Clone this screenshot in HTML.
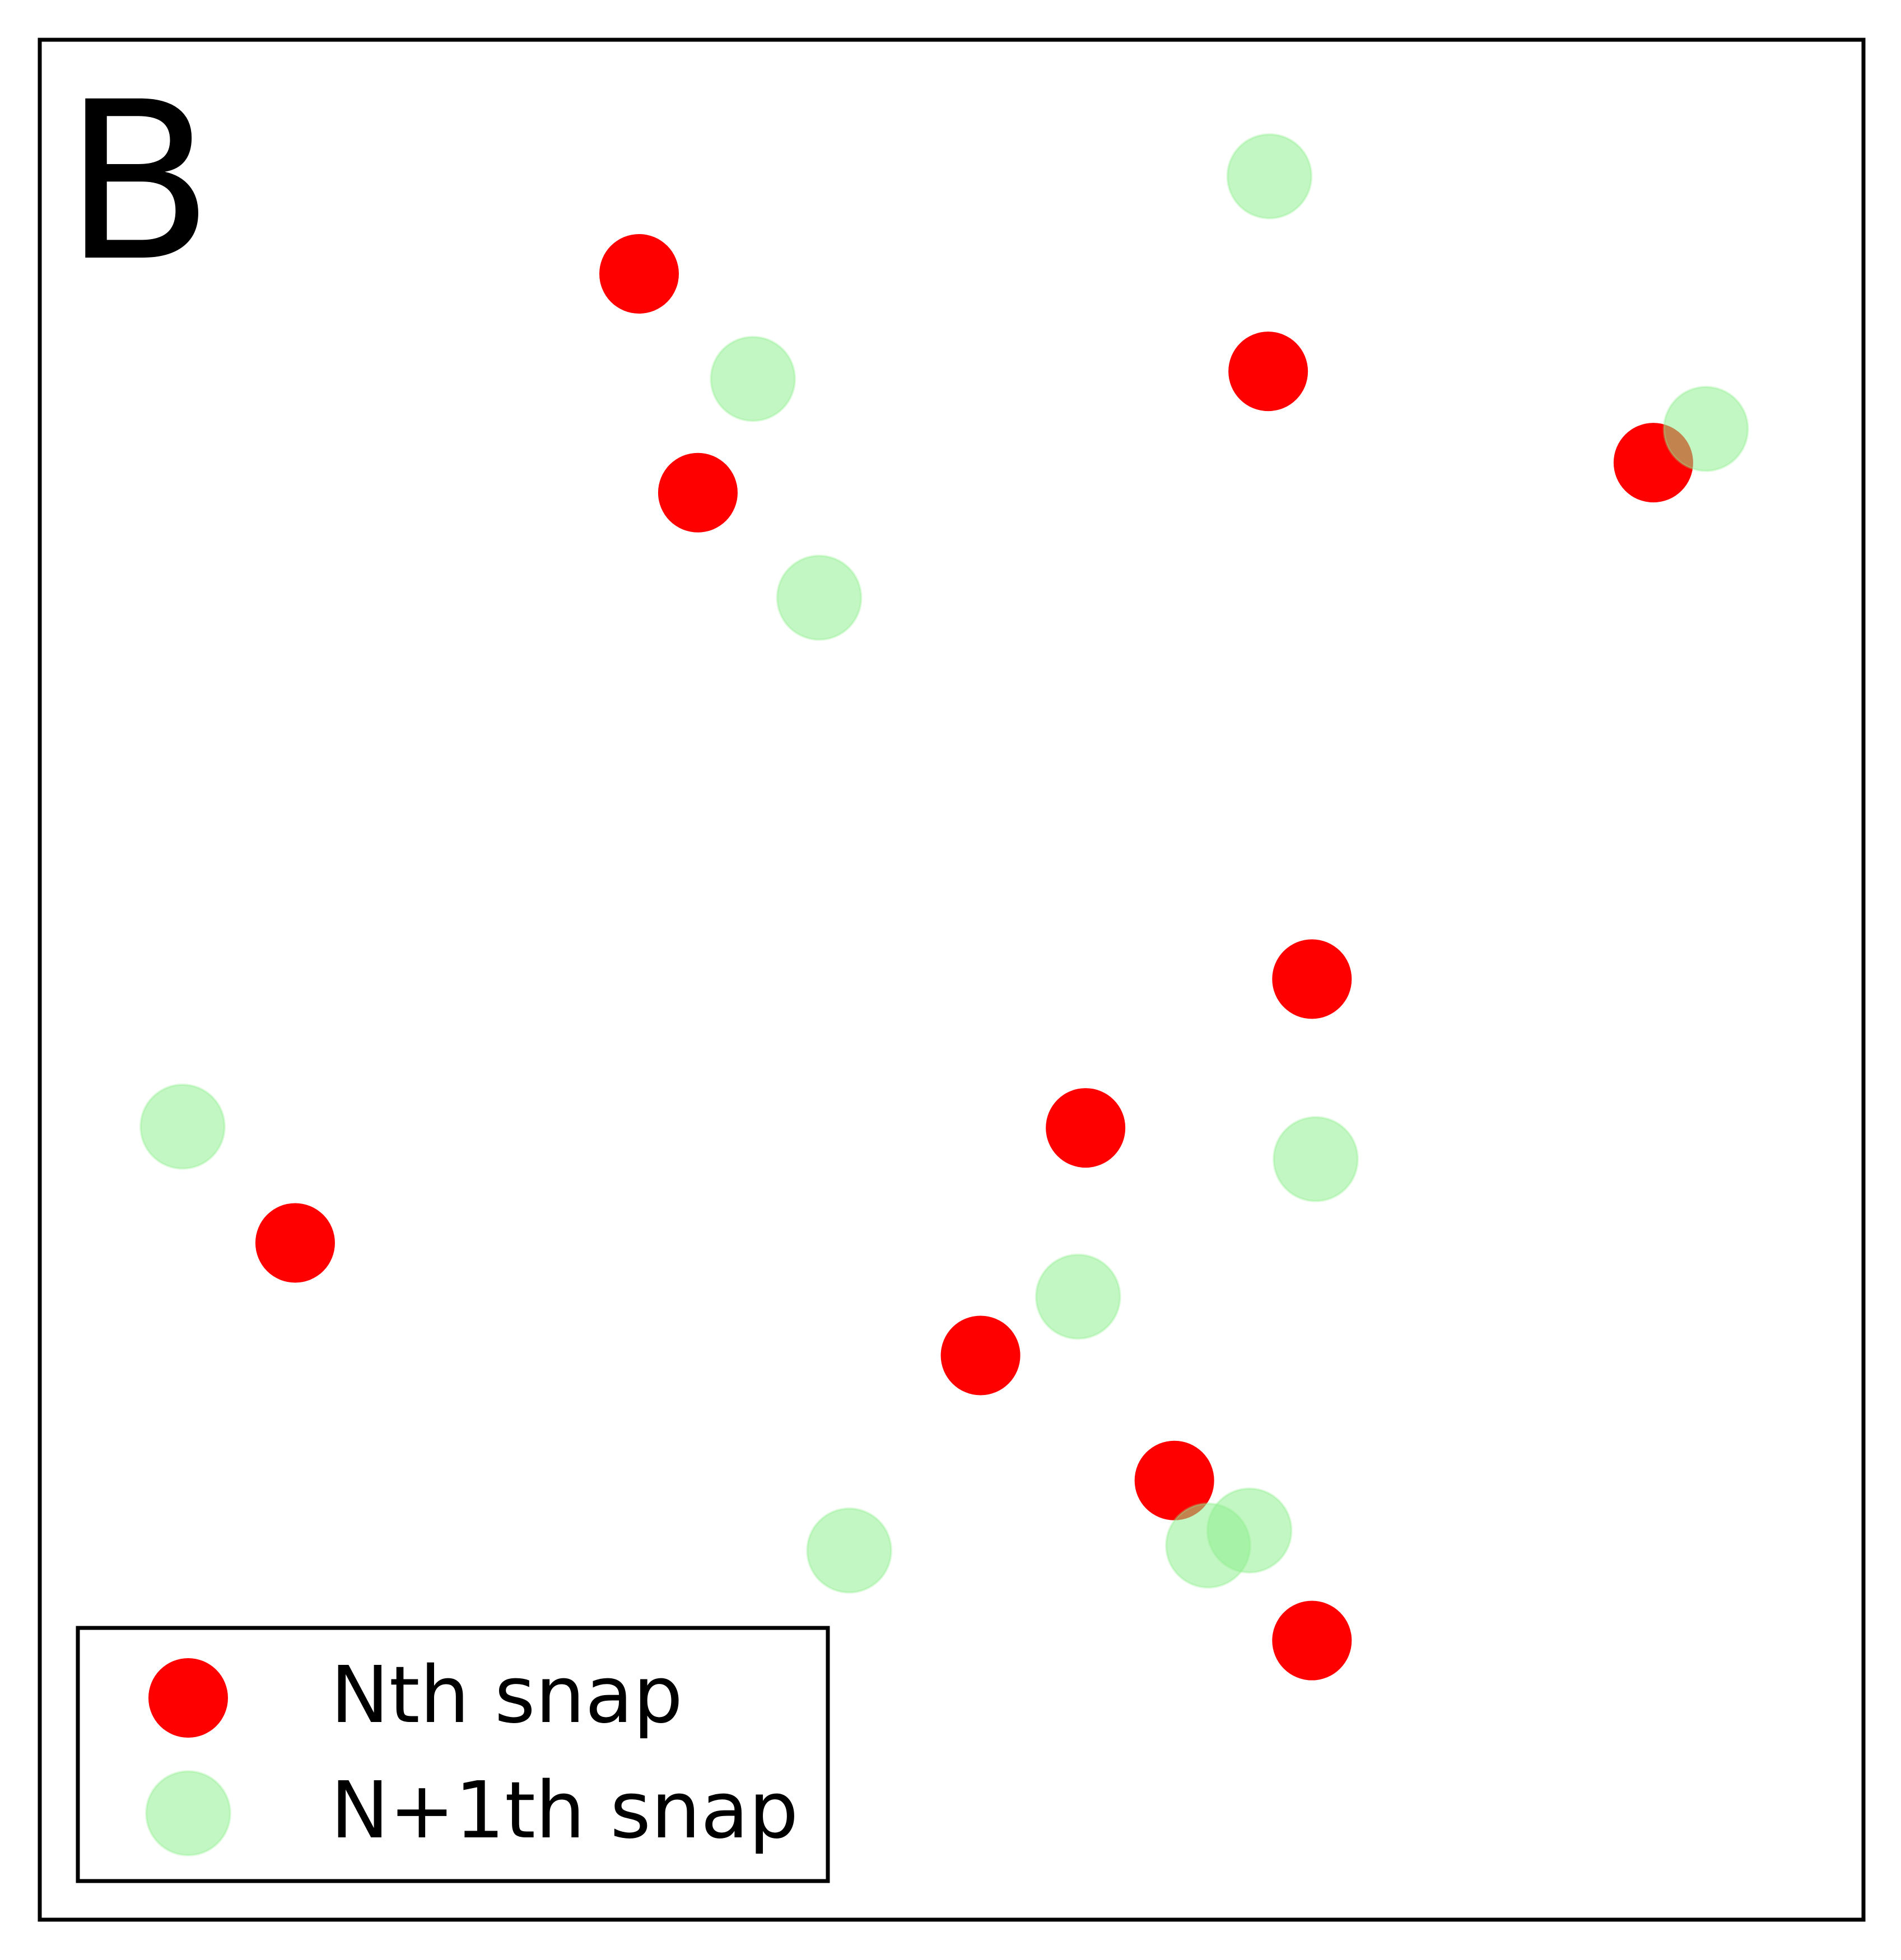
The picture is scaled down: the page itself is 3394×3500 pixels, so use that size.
<!DOCTYPE html>
<html><head><meta charset="utf-8"><style>
html,body{margin:0;padding:0;background:#fff;}
svg{display:block;}
text{font-family:"DejaVu Sans","Liberation Sans",sans-serif;}
</style></head><body>
<svg id="chart" width="3394" height="3500" viewBox="0 0 3394 3500">
<rect x="0" y="0" width="3394" height="3500" fill="#fff"/>
<g id="marks"></g>
<rect x="71" y="71" width="3256" height="3357" fill="none" stroke="#000" stroke-width="7"/>
<text x="114" y="460" font-size="390" fill="#000">B</text>
<g>
<rect x="139" y="2907" width="1339" height="452" fill="#fff" stroke="#000" stroke-width="7"/>
<circle cx="336" cy="3032" r="71" fill="#ff0000"/>
<text x="590" y="3075" font-size="140" fill="#000">Nth snap</text>
<circle cx="336" cy="3238" r="75" fill="#90ee90" fill-opacity="0.55" stroke="#90ee90" stroke-opacity="0.3" stroke-width="4"/>
<text x="590" y="3281" font-size="140" fill="#000">N+1th snap</text>
</g>
</svg>
<script>
const nthX=[511,1014,1322,558,1049,868,236,784,939,1049];
const nthY=[219,297,370,394,783,902,994,1084,1184,1312];
const n1X=[1015,602,1364,655,146,1052,862,679,999,966];
const n1Y=[141,303,343,478,901,927,1037,1240,1224,1236];
const S=3394/1520;
function xs(v){return v*S;}
function ys(v){return v*S;}
const g=document.getElementById('marks');
const NS='http://www.w3.org/2000/svg';
for(let i=0;i<nthX.length;i++){
  const c=document.createElementNS(NS,'circle');
  c.setAttribute('cx',xs(nthX[i]));c.setAttribute('cy',ys(nthY[i]));c.setAttribute('r',71);
  c.setAttribute('fill','#ff0000');
  
  
  g.appendChild(c);
}
for(let i=0;i<n1X.length;i++){
  const c=document.createElementNS(NS,'circle');
  c.setAttribute('cx',xs(n1X[i]));c.setAttribute('cy',ys(n1Y[i]));c.setAttribute('r',75);
  c.setAttribute('fill','#90ee90');c.setAttribute('fill-opacity','0.55');
  c.setAttribute('stroke','#90ee90');c.setAttribute('stroke-opacity','0.3');c.setAttribute('stroke-width','4');
  
  
  g.appendChild(c);
}
</script>
</body></html>
